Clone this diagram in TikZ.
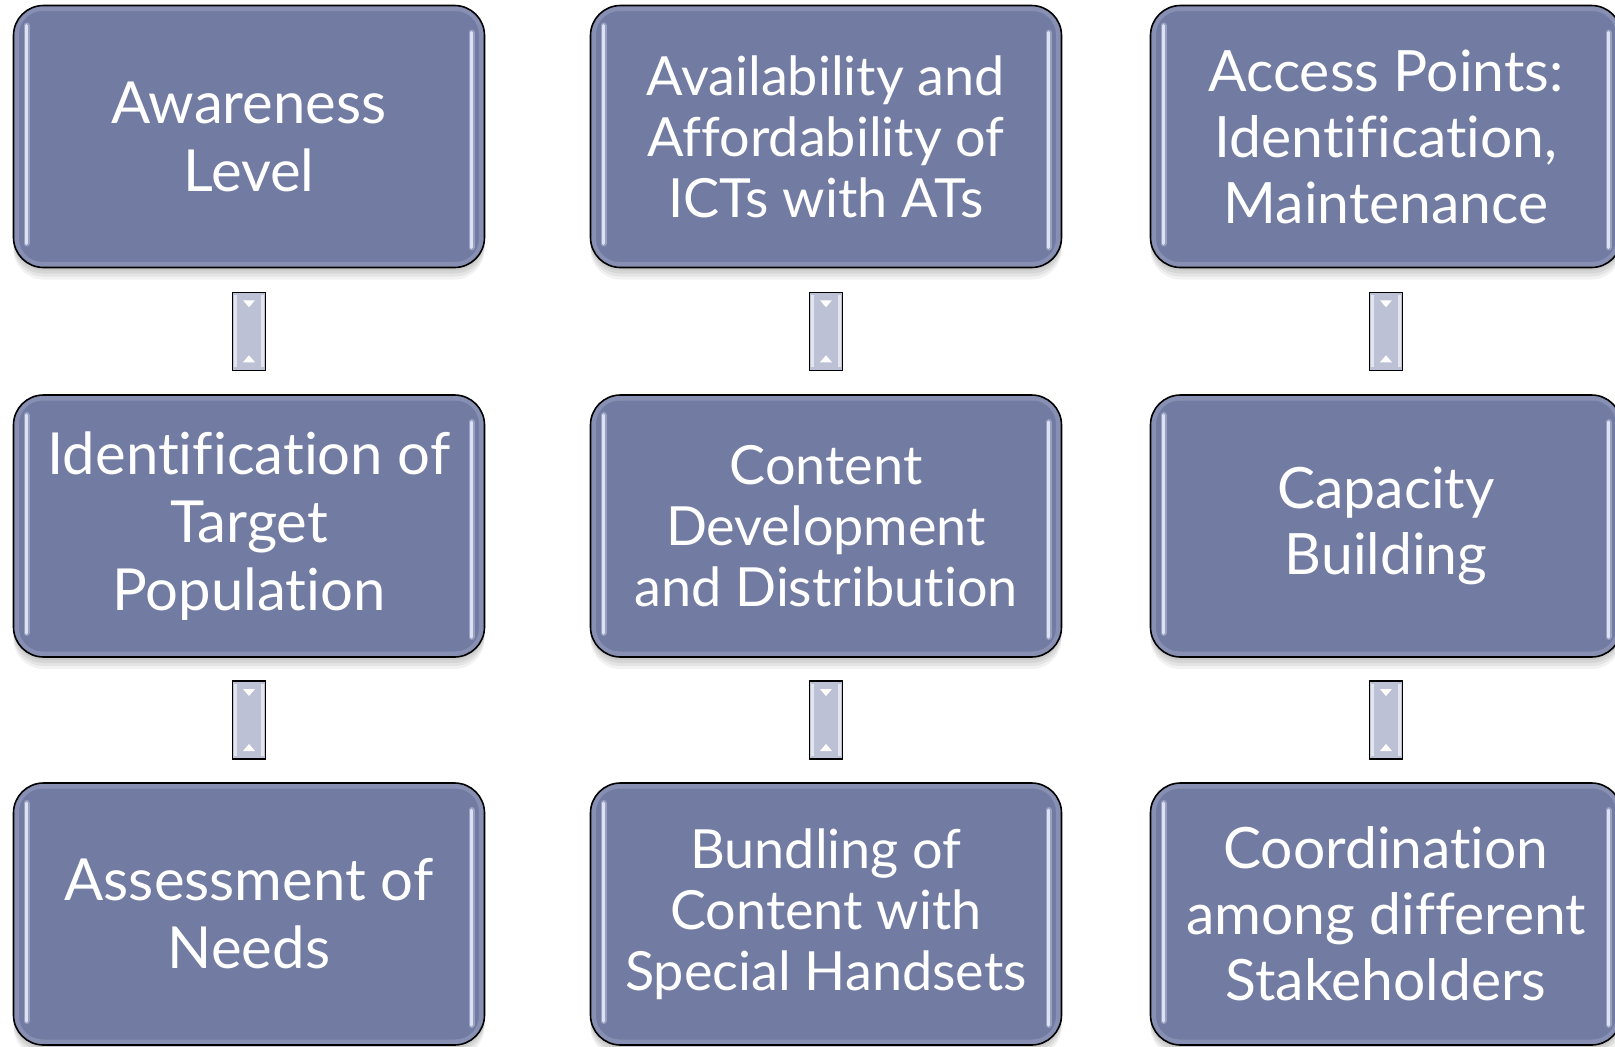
\documentclass[tikz,border=0pt]{standalone}
\usepackage{fontspec}
\setmainfont[Ligatures={NoCommon}]{Lato}
\usetikzlibrary{calc,shadows}
\definecolor{boxfill}{RGB}{114,123,161}
\definecolor{glint}{RGB}{228,232,250}
\definecolor{rim}{RGB}{150,158,192}
\definecolor{connfill}{RGB}{188,193,214}
\tikzset{
  stepbox/.style={rounded corners=30pt, draw=black, line width=1.6pt, fill=boxfill,
    minimum width=471pt, minimum height=262pt, text=white, align=center, inner sep=0pt,
    general shadow={fill=black, opacity=0.06, shadow yshift=-3pt},
    general shadow={fill=black, opacity=0.06, shadow yshift=-6pt},
    general shadow={fill=black, opacity=0.06, shadow yshift=-9pt},
    general shadow={fill=black, opacity=0.05, shadow yshift=-12pt},
    path picture={
      \draw[rim, line width=5pt, opacity=.6, rounded corners=26pt]
        ([xshift=3pt,yshift=-3pt]path picture bounding box.north west) rectangle
        ([xshift=-3pt,yshift=3pt]path picture bounding box.south east);
      \draw[glint, line width=6pt, opacity=.35, line cap=round]
        ([xshift=13pt,yshift=-20pt]path picture bounding box.north west) --
        ([xshift=13pt,yshift=24pt]path picture bounding box.south west);
      \draw[glint, line width=3pt, opacity=.9, line cap=round]
        ([xshift=13pt,yshift=-20pt]path picture bounding box.north west) --
        ([xshift=13pt,yshift=24pt]path picture bounding box.south west);
      \draw[glint, line width=6pt, opacity=.35, line cap=round]
        ([xshift=-13pt,yshift=-27pt]path picture bounding box.north east) --
        ([xshift=-13pt,yshift=20pt]path picture bounding box.south east);
      \draw[glint, line width=3pt, opacity=.9, line cap=round]
        ([xshift=-13pt,yshift=-27pt]path picture bounding box.north east) --
        ([xshift=-13pt,yshift=20pt]path picture bounding box.south east);
    }},
  connbox/.style={draw=black, line width=1.4pt, fill=connfill, minimum width=33pt,
    minimum height=78pt, inner sep=0pt,
    path picture={
      \draw[white, line width=3pt, opacity=.6]
        ([xshift=3pt,yshift=-3pt]path picture bounding box.north west) --
        ([xshift=3pt,yshift=3pt]path picture bounding box.south west);
      \draw[white, line width=3pt, opacity=.6]
        ([xshift=-3pt,yshift=-3pt]path picture bounding box.north east) --
        ([xshift=-3pt,yshift=3pt]path picture bounding box.south east);
      \fill[white] ([xshift=-6pt,yshift=-8pt]path picture bounding box.north) --
        ([xshift=6pt,yshift=-8pt]path picture bounding box.north) --
        ([yshift=-15pt]path picture bounding box.north) -- cycle;
      \fill[white] ([xshift=-6pt,yshift=8pt]path picture bounding box.south) --
        ([xshift=6pt,yshift=8pt]path picture bounding box.south) --
        ([yshift=15pt]path picture bounding box.south) -- cycle;
    }},
  colA/.style={font=\fontsize{58pt}{68pt}\selectfont},
  colB/.style={font=\fontsize{54pt}{61pt}\selectfont},
  colC/.style={font=\fontsize{57pt}{66pt}\selectfont},
}
\begin{document}
\begin{tikzpicture}[x=1pt,y=-1pt]
\useasboundingbox (0,0) rectangle (1615,1047);
\node[stepbox,colA] (a1) at (249,136.5) {Awareness\\Level};
\node[stepbox,colA] (a2) at (249,526) {Identification of\\Target\\Population};
\node[stepbox,colA] (a3) at (249,914) {Assessment of\\Needs};
\node[stepbox,colB] (b1) at (826,136.5) {Availability and\\Affordability of\\ICTs with ATs};
\node[stepbox,colB] (b2) at (826,526) {Content\\Development\\and Distribution};
\node[stepbox,colB] (b3) at (826,914) {Bundling of\\Content with\\Special Handsets};
\node[stepbox,colC] (c1) at (1386,136.5) {Access Points:\\Identification,\\Maintenance};
\node[stepbox,colC] (c2) at (1386,526) {Capacity\\Building};
\node[stepbox,colC] (c3) at (1386,914) {Coordination\\among different\\Stakeholders};
\path (a1.south) -- (a2.north) node[midway,connbox] (ka1) {};
\path (a2.south) -- (a3.north) node[midway,connbox] (ka2) {};
\path (b1.south) -- (b2.north) node[midway,connbox] (kb1) {};
\path (b2.south) -- (b3.north) node[midway,connbox] (kb2) {};
\path (c1.south) -- (c2.north) node[midway,connbox] (kc1) {};
\path (c2.south) -- (c3.north) node[midway,connbox] (kc2) {};
\end{tikzpicture}
\end{document}
